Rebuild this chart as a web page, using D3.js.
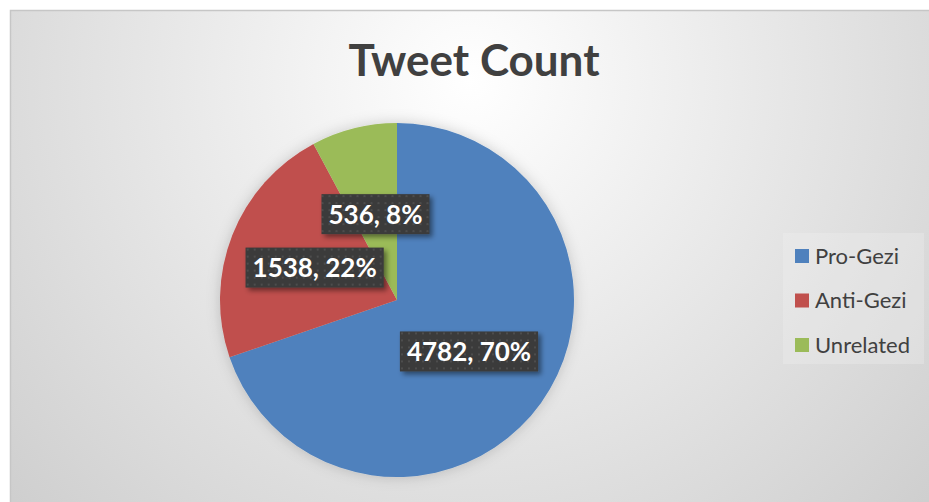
<!DOCTYPE html>
<html>
<head>
<meta charset="utf-8">
<script src="https://cdn.jsdelivr.net/npm/d3@7"></script>
<style>
  body { margin: 0; background: #fff; }
  text { font-family: Lato, "Open Sans", sans-serif; }
</style>
</head>
<body>
<svg id="pieChart" width="929" height="502"></svg>
<script>
// Data
const categories = ["Pro-Gezi", "Anti-Gezi", "Unrelated"];
const counts = [4782, 1538, 536];
const percentLabels = ["70%", "22%", "8%"];
const colors = ["#4f81bd", "#c0504d", "#9bbb59"];

// The svg
const svg = d3.select("#pieChart"),
  width = +svg.attr("width"),
  height = +svg.attr("height");

const defs = svg.append("defs");

// background gradient, lighter near the title
const bg = defs.append("radialGradient")
  .attr("id", "bgGrad")
  .attr("gradientUnits", "userSpaceOnUse")
  .attr("cx", 470).attr("cy", 80).attr("r", 620);
bg.append("stop").attr("offset", "0%").attr("stop-color", "#ffffff");
bg.append("stop").attr("offset", "100%").attr("stop-color", "#cfcfcf");

// dotted fill for the data labels
const dots = defs.append("pattern")
  .attr("id", "dots")
  .attr("patternUnits", "userSpaceOnUse")
  .attr("width", 7).attr("height", 7);
dots.append("rect").attr("width", 7).attr("height", 7).attr("fill", "#3a3a3a");
dots.append("rect").attr("x", 2).attr("y", 2).attr("width", 2).attr("height", 2).attr("fill", "#4e4e4e");

const pieShadow = defs.append("filter").attr("id", "pieShadow")
  .attr("x", "-20%").attr("y", "-20%").attr("width", "140%").attr("height", "140%");
pieShadow.append("feDropShadow")
  .attr("dx", 0).attr("dy", 0).attr("stdDeviation", 7)
  .attr("flood-color", "#000").attr("flood-opacity", 0.18);

const boxShadow = defs.append("filter").attr("id", "boxShadow")
  .attr("x", "-20%").attr("y", "-30%").attr("width", "150%").attr("height", "170%");
boxShadow.append("feDropShadow")
  .attr("dx", 3).attr("dy", 3).attr("stdDeviation", 2.5)
  .attr("flood-color", "#000").attr("flood-opacity", 0.45);

// chart area
svg.append("rect")
  .attr("x", 10.5).attr("y", 10.5)
  .attr("width", width + 10).attr("height", height + 10)
  .attr("fill", "url(#bgGrad)")
  .attr("stroke", "#c6c6c6")
  .attr("stroke-width", 1.5);

// Title
svg.append("text")
  .attr("x", 474).attr("y", 76)
  .attr("text-anchor", "middle")
  .attr("font-size", 44)
  .attr("font-weight", "bold")
  .attr("fill", "#404040")
  .text("Tweet Count");

// Pie
const radius = 177;
const cx = 397, cy = 300;

const pie = d3.pie().sort(null).value(d => d.count);
const arc = d3.arc().innerRadius(0).outerRadius(radius);

const table = categories.map((c, i) => ({ name: c, count: counts[i], pct: percentLabels[i], color: colors[i] }));
const arcs = pie(table);

const g = svg.append("g").attr("transform", `translate(${cx},${cy})`);

g.append("g")
  .attr("filter", "url(#pieShadow)")
  .selectAll("path")
  .data(arcs)
  .enter()
  .append("path")
    .attr("d", arc)
    .attr("fill", d => d.data.color);

// data labels
const labels = g.selectAll(".lbl")
  .data(arcs)
  .enter()
  .append("g")
    .attr("class", "lbl")
    .attr("transform", d => `translate(${arc.centroid(d)})`);

labels.append("text")
  .attr("text-anchor", "middle")
  .attr("dy", "0.36em")
  .attr("font-size", 26)
  .attr("font-weight", "bold")
  .attr("fill", "#ffffff")
  .text(d => `${d.data.count}, ${d.data.pct}`);

labels.each(function() {
  const grp = d3.select(this);
  const bb = grp.select("text").node().getBBox();
  grp.insert("rect", "text")
    .attr("x", bb.x - 7).attr("y", -20)
    .attr("width", bb.width + 14).attr("height", 40)
    .attr("fill", "url(#dots)")
    .attr("filter", "url(#boxShadow)");
});

// Legend
const legend = svg.append("g");
legend.append("rect")
  .attr("x", 783).attr("y", 233)
  .attr("width", 141).attr("height", 131)
  .attr("fill", "#f2f2f2").attr("opacity", 0.3);

const yLegend = d3.scalePoint()
  .domain(categories)
  .range([256, 345]);

const items = legend.selectAll(".item")
  .data(table)
  .enter()
  .append("g")
    .attr("class", "item")
    .attr("transform", d => `translate(795,${yLegend(d.name)})`);

items.append("rect")
  .attr("x", 0).attr("y", -7)
  .attr("width", 14).attr("height", 14)
  .attr("fill", d => d.color);

items.append("text")
  .attr("x", 20).attr("dy", "0.36em")
  .attr("font-size", 22)
  .attr("fill", "#404040")
  .text(d => d.name);
</script>
</body>
</html>
